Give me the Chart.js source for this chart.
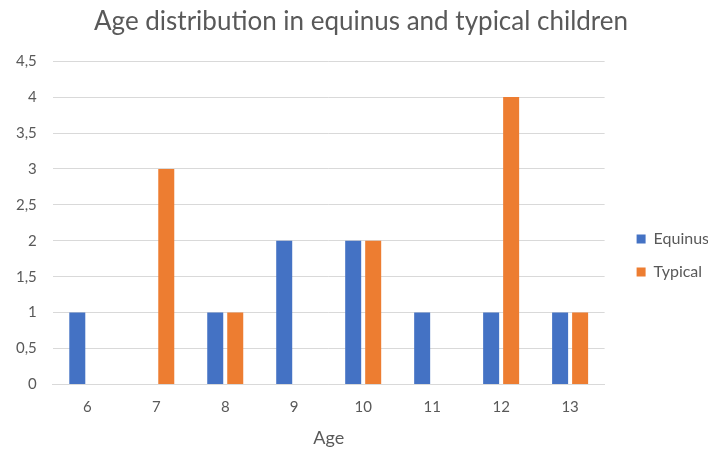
<!DOCTYPE html>
<html>
<head>
<meta charset="utf-8">
<script src="https://cdn.jsdelivr.net/npm/chart.js@4/dist/chart.umd.min.js"></script>
<style>
  html, body { margin: 0; padding: 0; background: #ffffff; }
  #wrap { width: 708px; height: 450px; }
</style>
</head>
<body>
<div id="wrap"><canvas id="c" width="708" height="450"></canvas></div>
<script>
// Ages of the children in each group
const ages = ['6', '7', '8', '9', '10', '11', '12', '13'];
const equinusCounts = [1, 0, 1, 2, 2, 1, 1, 1];
const typicalCounts = [0, 3, 1, 0, 2, 0, 4, 1];
const yTicks = [0, 0.5, 1, 1.5, 2, 2.5, 3, 3.5, 4, 4.5];

const FONT = "Lato, 'Open Sans', 'Liberation Sans', sans-serif";
const TEXT_GREY = '#595959';

// Small horizontal offsets for the title and legend boxes after layout
const nudgeBoxes = {
  id: 'nudgeBoxes',
  afterLayout(chart) {
    const t = chart.titleBlock;
    if (t) { t.left += 9; t.right += 9; }
    const l = chart.legend;
    if (l) { l.left += 15; l.right += 15; }
  }
};

new Chart(document.getElementById('c'), {
  type: 'bar',
  data: {
    labels: ages,
    datasets: [
      {
        label: 'Equinus',
        data: equinusCounts,
        backgroundColor: '#4472C4',
        borderWidth: 0,
        categoryPercentage: 0.58,
        barPercentage: 0.8
      },
      {
        label: 'Typical',
        data: typicalCounts,
        backgroundColor: '#ED7D31',
        borderWidth: 0,
        categoryPercentage: 0.58,
        barPercentage: 0.8
      }
    ]
  },
  plugins: [nudgeBoxes],
  options: {
    responsive: false,
    animation: false,
    layout: { padding: { left: 0, right: 4, top: 4, bottom: 1 } },
    plugins: {
      title: {
        display: true,
        text: 'Age distribution in equinus and typical children',
        color: TEXT_GREY,
        font: { family: FONT, size: 26, weight: 'normal' },
        padding: { top: 2, bottom: 24 }
      },
      legend: {
        position: 'right',
        title: {
          display: true,
          text: ' ',
          font: { size: 10 },
          padding: { top: 0, bottom: 46 }
        },
        labels: {
          color: TEXT_GREY,
          font: { family: FONT, size: 16 },
          boxWidth: 9,
          boxHeight: 9,
          padding: 17
        }
      },
      tooltip: { enabled: false }
    },
    scales: {
      x: {
        grid: { display: false, drawTicks: false },
        border: { display: true, color: '#d9d9d9', width: 1 },
        ticks: {
          color: TEXT_GREY,
          font: { family: FONT, size: 15 },
          padding: 14
        },
        title: {
          display: true,
          text: 'Age',
          color: TEXT_GREY,
          font: { family: FONT, size: 18 },
          padding: { top: -3, bottom: 0 }
        }
      },
      y: {
        min: 0,
        max: 4.5,
        afterBuildTicks: (axis) => { axis.ticks = yTicks.map(v => ({ value: v })); },
        grid: { color: '#d9d9d9', drawTicks: false },
        border: { display: false },
        ticks: {
          color: TEXT_GREY,
          font: { family: FONT, size: 15 },
          padding: 16,
          callback: (v) => String(v).replace('.', ',')
        }
      }
    }
  }
});
</script>
</body>
</html>
